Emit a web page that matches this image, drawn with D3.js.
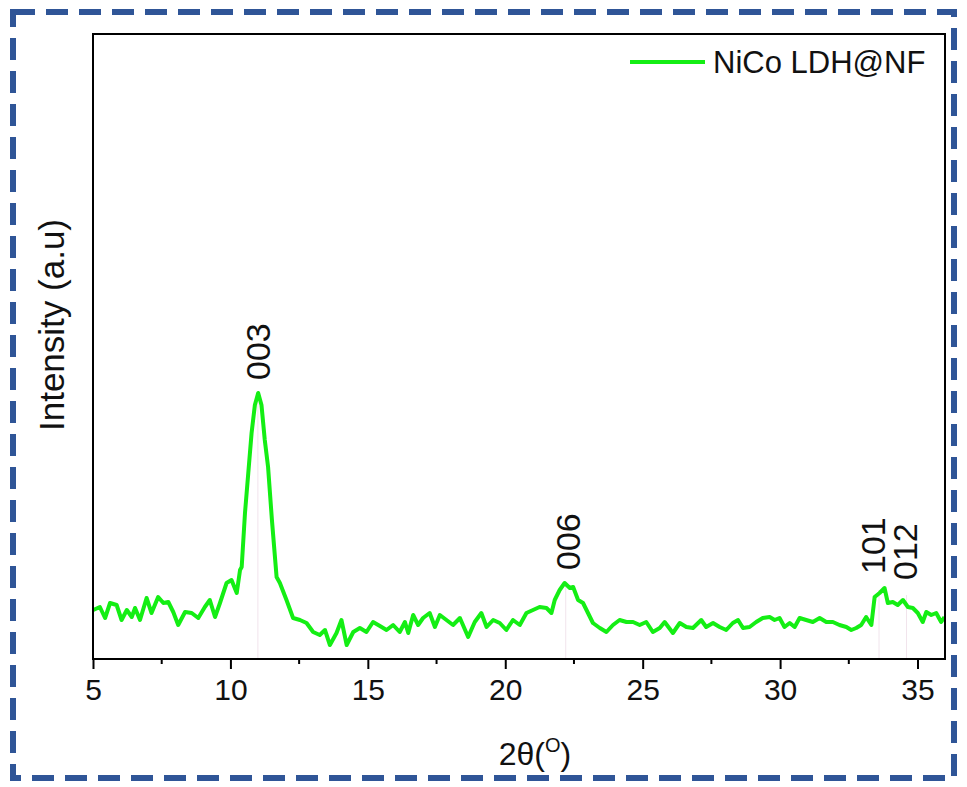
<!DOCTYPE html>
<html>
<head>
<meta charset="utf-8">
<script src="https://cdn.jsdelivr.net/npm/d3@7"></script>
<style>
  body { margin: 0; background: #fff; }
  text { font-family: Arial, "Liberation Sans", sans-serif; }
</style>
</head>
<body>
<div id="chart"></div>
<script>
// 2theta positions (degrees) and intensity (a.u.)
const twoTheta = [5.01,5.25,5.44,5.62,5.86,6.04,6.23,6.41,6.53,6.71,6.95,7.13,7.37,7.56,7.74,7.92,8.10,8.35,8.59,8.83,
  9.07,9.25,9.44,9.62,9.86,10.04,10.23,10.35,10.41,10.53,10.65,10.77,10.89,11.01,11.13,11.25,11.37,11.51,11.68,11.80,
  12.04,12.28,12.53,12.77,13.01,13.25,13.44,13.62,13.86,14.04,14.23,14.47,14.71,14.95,15.19,15.44,15.68,15.92,16.16,16.35,
  16.47,16.65,16.83,17.01,17.25,17.44,17.62,17.86,18.10,18.35,18.65,18.89,19.13,19.32,19.56,19.80,20.04,20.28,20.53,20.77,
  21.01,21.25,21.50,21.68,21.80,21.98,22.16,22.35,22.47,22.65,22.83,23.01,23.19,23.44,23.68,23.92,24.16,24.41,24.65,24.89,
  25.13,25.37,25.62,25.80,26.10,26.35,26.59,26.83,27.13,27.31,27.56,27.80,28.04,28.28,28.47,28.65,28.89,29.13,29.37,29.62,
  29.80,29.98,30.16,30.35,30.53,30.71,30.95,31.19,31.44,31.68,31.92,32.16,32.41,32.59,32.77,32.95,33.13,33.32,33.44,33.62,
  33.80,33.92,34.10,34.28,34.47,34.65,34.83,35.01,35.19,35.32,35.50,35.68,35.86,35.98];
const intensity = [47,50,39,54,52,37,47,40,49,37,59,44,60,54,55,45,32,45,44,39,
  50,57,40,54,74,77,64,87,90,144,184,224,252,264,252,217,190,137,80,74,
  57,39,37,34,25,22,27,12,24,37,12,25,29,25,35,31,27,32,25,35,
  24,42,32,39,44,30,42,37,32,39,20,35,44,30,37,34,27,37,32,44,
  47,50,49,44,57,67,74,69,70,57,54,44,34,29,25,32,37,35,35,32,
  35,25,29,35,24,34,30,29,37,30,34,30,27,34,37,29,30,35,39,40,
  37,39,30,34,30,39,37,35,39,35,35,32,30,27,29,32,40,32,60,64,
  69,54,55,52,57,50,49,44,35,45,42,44,35,40];

const xTicks = [5,10,15,20,25,30,35];
const peakLabels = ["003","006","101","012"];
const peakPos = [11.0,22.2,33.6,34.6];
const seriesName = "NiCo LDH@NF";

const width = 967, height = 787;
const margin = {left:93, right:22, top:34, bottom:128};

const svg = d3.select("#chart").append("svg")
    .attr("width",width)
    .attr("height",height);

// dashed blue frame round the whole figure
svg.append("rect")
    .attr("x",13).attr("y",12)
    .attr("width",941).attr("height",766)
    .attr("fill","none")
    .attr("stroke","#2f5597")
    .attr("stroke-width",6)
    .attr("stroke-dasharray","22,11");

let xScale = d3.scaleLinear()
    .domain([5,36])
    .range([margin.left, width - margin.right]);

let yScale = d3.scaleLinear()
    .domain([-2,623])
    .range([height - margin.bottom, margin.top]);

const x0 = margin.left, x1 = width - margin.right;
const y0 = height - margin.bottom, y1 = margin.top;

// faint reference lines under the peaks
svg.selectAll("line.ref")
    .data(peakPos)
    .join("line")
    .attr("class","ref")
    .attr("x1",d => xScale(d)).attr("x2",d => xScale(d))
    .attr("y1",(d,i) => [395,585,590,595][i])
    .attr("y2",y0)
    .attr("stroke","#f1e4ec")
    .attr("stroke-width",1);

// the pattern
let line = d3.line()
    .x((d,i) => xScale(twoTheta[i]))
    .y(d => yScale(d));

svg.append("path")
    .datum(intensity)
    .attr("d",line)
    .attr("fill","none")
    .attr("stroke","#14ee14")
    .attr("stroke-width",4)
    .attr("stroke-linejoin","round");

// plot frame
svg.append("rect")
    .attr("x",x0).attr("y",y1)
    .attr("width",x1-x0).attr("height",y0-y1)
    .attr("fill","none")
    .attr("stroke","#000")
    .attr("stroke-width",2);

// bottom axis
let xAxis = d3.axisBottom(xScale)
    .tickValues(xTicks)
    .tickFormat(d3.format("d"))
    .tickSize(10)
    .tickPadding(10);

let gx = svg.append("g")
    .attr("transform","translate(0," + y0 + ")")
    .call(xAxis);
gx.select(".domain").remove();
gx.selectAll("line").attr("stroke","#000").attr("stroke-width",2);
gx.selectAll("text").attr("font-size",30).attr("fill","#111")
    .style("font-family","Arial, 'Liberation Sans', sans-serif");

// minor ticks
svg.selectAll("line.minor")
    .data([7.5,12.5,17.5,22.5,27.5,32.5])
    .join("line")
    .attr("class","minor")
    .attr("x1",d => xScale(d)).attr("x2",d => xScale(d))
    .attr("y1",y0).attr("y2",y0 + 5)
    .attr("stroke","#000").attr("stroke-width",2);

// axis titles
let xt = svg.append("text")
    .attr("x",(x0+x1)/2 + 16)
    .attr("y",765)
    .attr("text-anchor","middle")
    .attr("font-size",32)
    .attr("fill","#111");
xt.append("tspan").text("2θ(");
xt.append("tspan").text("O").attr("font-size",20).attr("dy",-13);
xt.append("tspan").text(")").attr("dy",13);

svg.append("text")
    .attr("transform","translate(64,325) rotate(-90)")
    .attr("text-anchor","middle")
    .attr("font-size",35)
    .attr("fill","#111")
    .text("Intensity (a.u)");

// peak labels (hkl)
const labelSpot = [[270,380],[580,570],[885,574],[917,580]];
svg.selectAll("text.hkl")
    .data(peakLabels)
    .join("text")
    .attr("class","hkl")
    .attr("transform",(d,i) => "translate(" + labelSpot[i][0] + "," + labelSpot[i][1] + ") rotate(-90)")
    .attr("text-anchor","start")
    .attr("font-size",34)
    .attr("fill","#111")
    .text(d => d);

// legend
svg.append("line")
    .attr("x1",630).attr("x2",705)
    .attr("y1",62).attr("y2",62)
    .attr("stroke","#14ee14")
    .attr("stroke-width",4);
svg.append("text")
    .attr("x",713).attr("y",73)
    .attr("font-size",31)
    .attr("fill","#111")
    .text(seriesName);
</script>
</body>
</html>
